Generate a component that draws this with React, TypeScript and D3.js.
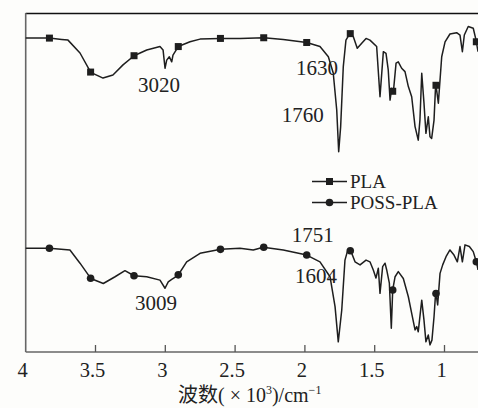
import React from "react";
import * as d3 from "d3";

// wavenumber in 10^3 cm^-1, transmittance in arbitrary units (0-100)
const plaWave = [
  4.0, 3.831, 3.742, 3.697, 3.611, 3.534, 3.446, 3.375, 3.303, 3.224, 3.133, 3.038, 3.016, 3.002,
  2.99, 2.971, 2.954, 2.945, 2.907, 2.823, 2.751, 2.608, 2.465, 2.293, 2.155, 1.987, 1.892, 1.832,
  1.797, 1.772, 1.758, 1.744, 1.725, 1.706, 1.677, 1.653, 1.625, 1.593, 1.562, 1.534, 1.486, 1.462,
  1.438, 1.419, 1.403, 1.39, 1.378, 1.367, 1.347, 1.331, 1.307, 1.283, 1.259, 1.235, 1.211, 1.188,
  1.176, 1.163, 1.147, 1.133, 1.116, 1.104, 1.092, 1.075, 1.063, 1.044, 1.02, 0.996, 0.961, 0.913,
  0.889, 0.872, 0.858, 0.83, 0.794, 0.774, 0.76,
];
const plaT = [
  92.6, 92.6, 92.2, 92.0, 88.2, 82.5, 80.8, 81.7, 84.7, 87.4, 89.1, 90.1, 89.1, 83.7,
  86.1, 87.1, 85.6, 87.6, 90.1, 91.5, 92.3, 92.5, 92.5, 92.7, 92.2, 91.3, 90.1, 87.1,
  82.3, 71.4, 59.1, 66.4, 84.2, 92.0, 94.0, 93.0, 89.6, 91.1, 92.5, 92.0, 90.1, 75.3,
  88.6, 88.1, 83.2, 74.3, 77.8, 76.4, 85.2, 85.6, 83.7, 82.7, 78.3, 75.3, 66.5, 62.5,
  68.4, 82.2, 73.4, 64.5, 69.4, 63.5, 63.0, 68.4, 79.3, 73.4, 87.1, 91.5, 93.8, 94.2,
  93.5, 88.6, 93.5, 96.0, 95.5, 92.0, 88.6,
];

const possWave = [
  4.0, 3.831, 3.683, 3.611, 3.534, 3.444, 3.36, 3.289, 3.224, 3.133, 3.038, 3.002, 2.979, 2.954,
  2.911, 2.847, 2.751, 2.603, 2.465, 2.37, 2.298, 2.155, 1.987, 1.892, 1.82, 1.784, 1.761, 1.736,
  1.713, 1.696, 1.672, 1.641, 1.605, 1.562, 1.534, 1.51, 1.491, 1.474, 1.462, 1.443, 1.426, 1.414,
  1.395, 1.381, 1.371, 1.354, 1.331, 1.295, 1.259, 1.235, 1.211, 1.199, 1.188, 1.163, 1.147, 1.133,
  1.116, 1.104, 1.09, 1.075, 1.063, 1.049, 1.032, 1.013, 0.989, 0.961, 0.932, 0.908, 0.889, 0.872,
  0.853, 0.822, 0.794, 0.769, 0.76,
];
const possT = [
  30.6, 30.6, 30.1, 26.2, 21.7, 20.2, 22.2, 24.0, 22.5, 22.2, 21.2, 18.8, 20.7, 21.4,
  22.5, 26.6, 29.1, 30.3, 30.6, 30.1, 30.9, 30.1, 28.6, 26.6, 22.2, 13.4, 3.0, 12.4,
  27.1, 29.6, 29.9, 26.6, 25.7, 27.1, 26.6, 24.2, 21.8, 24.7, 17.3, 25.2, 26.2, 24.2,
  20.3, 7.0, 18.3, 22.2, 23.7, 21.7, 16.3, 11.4, 6.5, 7.5, 6.0, 15.3, 9.4, 3.0,
  5.0, 2.1, 3.5, 10.4, 17.8, 13.9, 23.2, 25.7, 28.1, 30.1, 28.6, 26.6, 31.1, 26.6,
  31.6, 31.1, 29.6, 26.2, 24.2,
];

const markerWave = [3.83, 3.535, 3.224, 2.907, 2.605, 2.295, 1.987, 1.675, 1.371, 1.061, 0.772];
const xTicks = [3.5, 3, 2.5, 2, 1.5, 1];
const xTickLabels = [4, 3.5, 3, 2.5, 2, 1.5, 1];

// peak labels: text and where its left edge / baseline sit in data units
const noteText = ["3020", "1630", "1760", "3009", "1751", "1604"];
const noteWave = [3.196, 2.064, 2.166, 3.217, 2.095, 2.071];
const noteLevel = [76.8, 81.7, 67.9, 12.4, 32.4, 20.3];

const W = 478;
const H = 408;
const FONT = "'Liberation Serif', 'Times New Roman', 'Noto Sans CJK SC', serif";

const x = d3.scaleLinear().domain([4, 0.75]).range([25.7, 479.4]);
const y = d3.scaleLinear().domain([0, 100]).range([352, 13]);

const toPoints = (w: number[], t: number[]) => w.map((v, i) => [v, t[i]] as [number, number]);

const interp = (w: number[], t: number[], v: number) => {
  for (let i = 0; i < w.length - 1; i++) {
    if (v <= w[i] && v >= w[i + 1]) {
      const f = (w[i] - v) / (w[i] - w[i + 1]);
      return t[i] + f * (t[i + 1] - t[i]);
    }
  }
  return t[t.length - 1];
};

const line = d3
  .line<[number, number]>()
  .x((d) => x(d[0]))
  .y((d) => y(d[1]));

export default function App() {
  const ink = "#1e1e1e";
  const plaPts = toPoints(plaWave, plaT);
  const possPts = toPoints(possWave, possT);

  return (
    <svg
      width={W}
      height={H}
      style={{ position: "absolute", left: 0, top: 0, background: "#fdfdfb" }}
      fontFamily={FONT}
    >
      <rect x={0} y={0} width={W} height={H} fill="#fdfdfb" />

      {/* frame */}
      <line x1={x(4)} x2={W} y1={13.5} y2={13.5} stroke="#111" strokeWidth={1.6} />
      <line x1={x(4)} x2={x(4)} y1={13} y2={352} stroke="#666" strokeWidth={1.6} />
      <line x1={x(4)} x2={W} y1={352} y2={352} stroke="#666" strokeWidth={1.6} />
      {xTicks.map((t) => (
        <line key={t} x1={x(t)} x2={x(t)} y1={352} y2={345} stroke="#555" strokeWidth={1.3} />
      ))}
      {xTickLabels.map((t) => (
        <text key={t} x={x(t) - 3} y={377} fontSize={20.5} textAnchor="middle" fill="#222">
          {t}
        </text>
      ))}

      <text x={178} y={402} fontSize={20} fill="#222">
        <tspan>波数( × 10</tspan>
        <tspan fontSize={12} dy={-8}>3</tspan>
        <tspan dy={8}>)/cm</tspan>
        <tspan fontSize={12} dy={-8}>−1</tspan>
      </text>

      {/* spectra */}
      <path d={line(plaPts) || ""} fill="none" stroke={ink} strokeWidth={1.5} strokeLinejoin="round" />
      <path d={line(possPts) || ""} fill="none" stroke={ink} strokeWidth={1.5} strokeLinejoin="round" />

      {markerWave.map((m) => (
        <rect
          key={"s" + m}
          x={x(m) - 3.5}
          y={y(interp(plaWave, plaT, m)) - 3.5}
          width={7}
          height={7}
          fill={ink}
        />
      ))}
      {markerWave.map((m) => (
        <circle key={"c" + m} cx={x(m)} cy={y(interp(possWave, possT, m))} r={3.8} fill={ink} />
      ))}

      {/* annotations */}
      {noteText.map((s, i) => (
        <text key={s} x={x(noteWave[i])} y={y(noteLevel[i])} fontSize={21} fill="#222">
          {s}
        </text>
      ))}

      {/* legend */}
      <g transform="translate(312,181.5)">
        <line x1={0} x2={35} y1={0} y2={0} stroke={ink} strokeWidth={1.5} />
        <rect x={14} y={-3.5} width={7} height={7} fill={ink} />
        <text x={38} y={6.5} fontSize={19} fill="#222">PLA</text>
      </g>
      <g transform="translate(312,202.5)">
        <line x1={0} x2={35} y1={0} y2={0} stroke={ink} strokeWidth={1.5} />
        <circle cx={17.5} cy={0} r={3.8} fill={ink} />
        <text x={38} y={6.5} fontSize={19} fill="#222">POSS-PLA</text>
      </g>
    </svg>
  );
}
